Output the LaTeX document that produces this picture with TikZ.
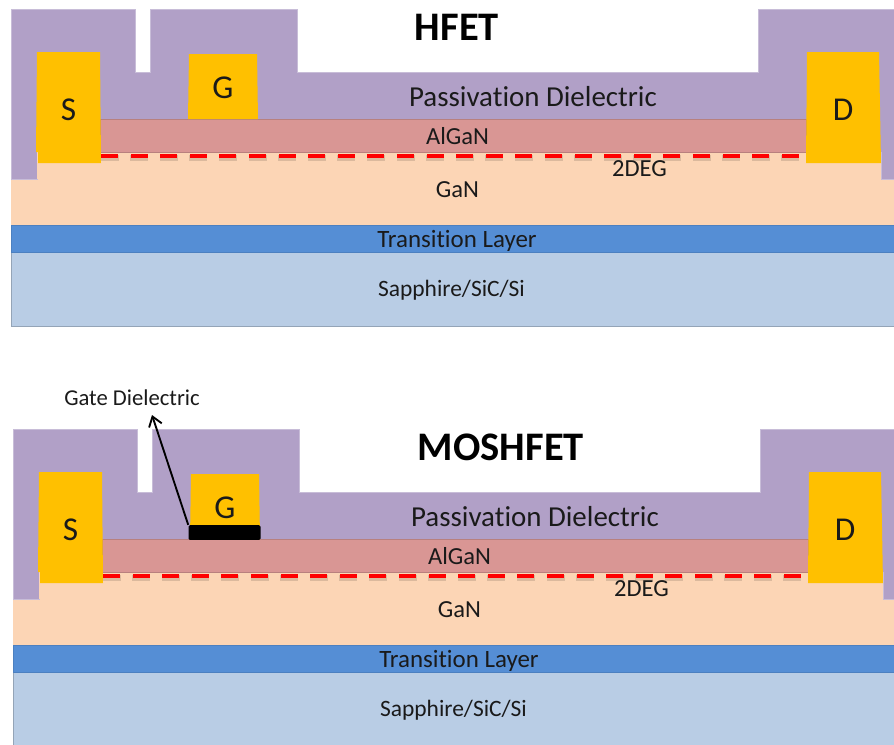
\documentclass[tikz,border=0pt]{standalone}
\usepackage{fontspec}
\usetikzlibrary{arrows.meta}
\setmainfont[Ligatures=NoCommon]{Carlito}
\definecolor{passiv}{HTML}{B1A0C7}
\definecolor{algan}{HTML}{D99694}
\definecolor{gan}{HTML}{FCD5B5}
\definecolor{trans}{HTML}{558ED5}
\definecolor{sapph}{HTML}{B9CDE5}
\definecolor{metal}{HTML}{FFC000}
\definecolor{ink}{HTML}{1A1A1A}
\tikzset{
  lbl/.style={inner sep=0pt,text=ink,font=\fontsize{#1}{#1}\selectfont},
  lbl/.default=15,
  ttl/.style={font=\fontsize{#1}{#1}\selectfont\bfseries,inner sep=0pt,text=black},
  metalpart/.style={fill=metal,draw=none},
  degdash/.style={fill=red},
  degshadow/.style={fill=black,opacity=0.13}
}
\newcommand{\devicebody}[2]{%
  \begin{scope}[shift={(#1,#2)}]
    \fill[sapph,draw=sapph!80!black,line width=0.2pt] (11,252) rectangle (900,326);
    \fill[gan] (11,152) rectangle (900,225);
    \fill[trans,draw=trans!90!black,line width=0.2pt] (11,225) rectangle (900,252);
    \fill[passiv,draw=passiv!70!white,line width=0.3pt]
      (11,9) -- (135.5,9) -- (135.5,72) -- (150,72) -- (150,9) -- (297,9) -- (297,72)
      -- (758,72) -- (758,9) -- (900,9) -- (900,179) -- (881,179) -- (881,152)
      -- (37,152) -- (37,179) -- (11,179) -- cycle;
    \fill[gan] (37,152) rectangle (881,179);
    \fill[algan,draw=algan!85!black,line width=0.4pt] (100,119.5) rectangle (806,152);
    \foreach \i in {0,...,23} {
      \path[degshadow] ({100.5+29.6*\i},155) rectangle ++(18,5.5);
      \path[degdash] ({101+29.6*\i},154) rectangle ++(17,4.2);
    }
    \fill[metalpart] (37,52) -- (100,52) -- (101,163) -- (38,163) -- (38,152) -- (36,152) -- cycle;
    \fill[metalpart] (189,54) -- (257,54) -- (258,119) -- (188,119) -- cycle;
    \fill[metalpart] (807,52) -- (879,52) -- (881,163) -- (806,163) -- cycle;
  \end{scope}}
\newcommand{\devicetext}[3]{%
  \begin{scope}[shift={(#2,#3)}]
    \node[lbl=25] (#1s) at (68.5,110) {S};
    \node[lbl=25] (#1g) at (223,88) {G};
    \node[lbl=25] (#1d) at (843,110) {D};
    \node[lbl=21.7] (#1p) at (533,96.5) {Passivation Dielectric};
    \node[lbl=18.4] (#1a) at (457.5,136.5) {AlGaN};
    \node[lbl=18.4] (#1e) at (639.5,169) {2DEG};
    \node[lbl=18.4] (#1n) at (457.5,190) {GaN};
    \node[lbl=18.7] (#1t) at (457,241) {Transition Layer};
    \node[lbl=17.6] (#1b) at (451.5,290.5) {Sapphire/SiC/Si};
  \end{scope}}
\begin{document}
\begin{tikzpicture}[x=0.75pt,y=-0.75pt]
  \useasboundingbox (0,0) rectangle (894,744);
  \clip (0,0) rectangle (894,744);
  \devicebody{0}{0}
  \devicetext{h}{0}{0}
  \node[ttl=30.4] (htitle) at (457,27) {HFET};
  \devicebody{2}{420}
  \devicetext{m}{2}{420}
  \node[ttl=30.4] (mtitle) at (501,447) {MOSHFET};
  \node[fill=black,rounded corners=1pt,minimum width=54pt,minimum height=11pt,inner sep=0pt] (gd) at (224.5,532.5) {};
  \node[lbl=17] (gdl) at (132,398) {Gate Dielectric};
  \coordinate (gdtip) at (152,415);
  \draw[-{Straight Barb[length=7pt,width=10pt]},line width=1.4pt,black] (gd.north west) -- (gdtip);
\end{tikzpicture}
\end{document}
